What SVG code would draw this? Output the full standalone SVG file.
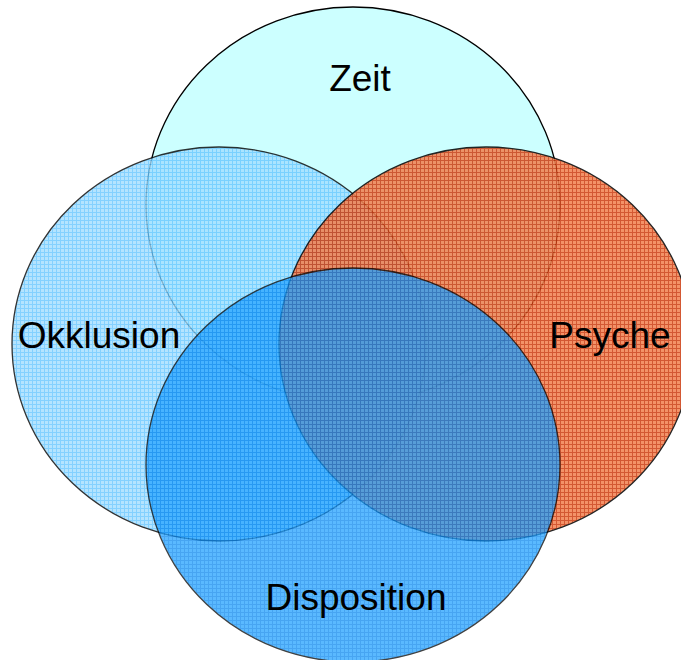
<svg xmlns="http://www.w3.org/2000/svg" width="681" height="660" viewBox="0 0 681 660">
<style>
.c{stroke:#000;stroke-width:1.3}
.t{font-family:"Liberation Sans",Arial,sans-serif;font-size:37px;fill:#000;text-anchor:middle}
</style>
<defs>
<pattern id="pO" width="4" height="4" patternUnits="userSpaceOnUse">
<rect width="4" height="4" fill="#A2DEFF"/>
<rect width="4" height="1" fill="#66C6FF"/>
<rect width="1" height="4" fill="#66C6FF"/>
</pattern>
<pattern id="pP" width="4" height="4" patternUnits="userSpaceOnUse">
<rect width="4" height="4" fill="#F2804E"/>
<rect width="4" height="1" fill="#CC3C10"/>
<rect width="1" height="4" fill="#CC3C10"/>
</pattern>
<pattern id="pD" width="4" height="4" patternUnits="userSpaceOnUse">
<rect width="4" height="4" fill="#22A2FF"/>
<rect width="4" height="1" fill="#0886EE"/>
<rect width="1" height="4" fill="#0886EE"/>
</pattern>
</defs>
<rect width="681" height="660" fill="#fff"/>
<g id="zeit">
<ellipse class="c" cx="353" cy="205" rx="207" ry="198" fill="#CCFFFF"/>
<text class="t" x="360" y="91">Zeit</text>
</g>
<g id="okklusion">
<ellipse class="c" cx="219" cy="344" rx="207" ry="197" fill="url(#pO)" opacity="0.8"/>
<text class="t" x="99" y="348">Okklusion</text>
</g>
<g id="psyche">
<ellipse class="c" cx="486" cy="344" rx="207" ry="197" fill="url(#pP)" opacity="0.85"/>
<text class="t" x="610" y="348">Psyche</text>
</g>
<g id="disposition">
<ellipse class="c" cx="353" cy="465" rx="207" ry="197" fill="url(#pD)" opacity="0.74"/>
<text class="t" x="356" y="610">Disposition</text>
</g>
<g id="connectors"/>
</svg>
